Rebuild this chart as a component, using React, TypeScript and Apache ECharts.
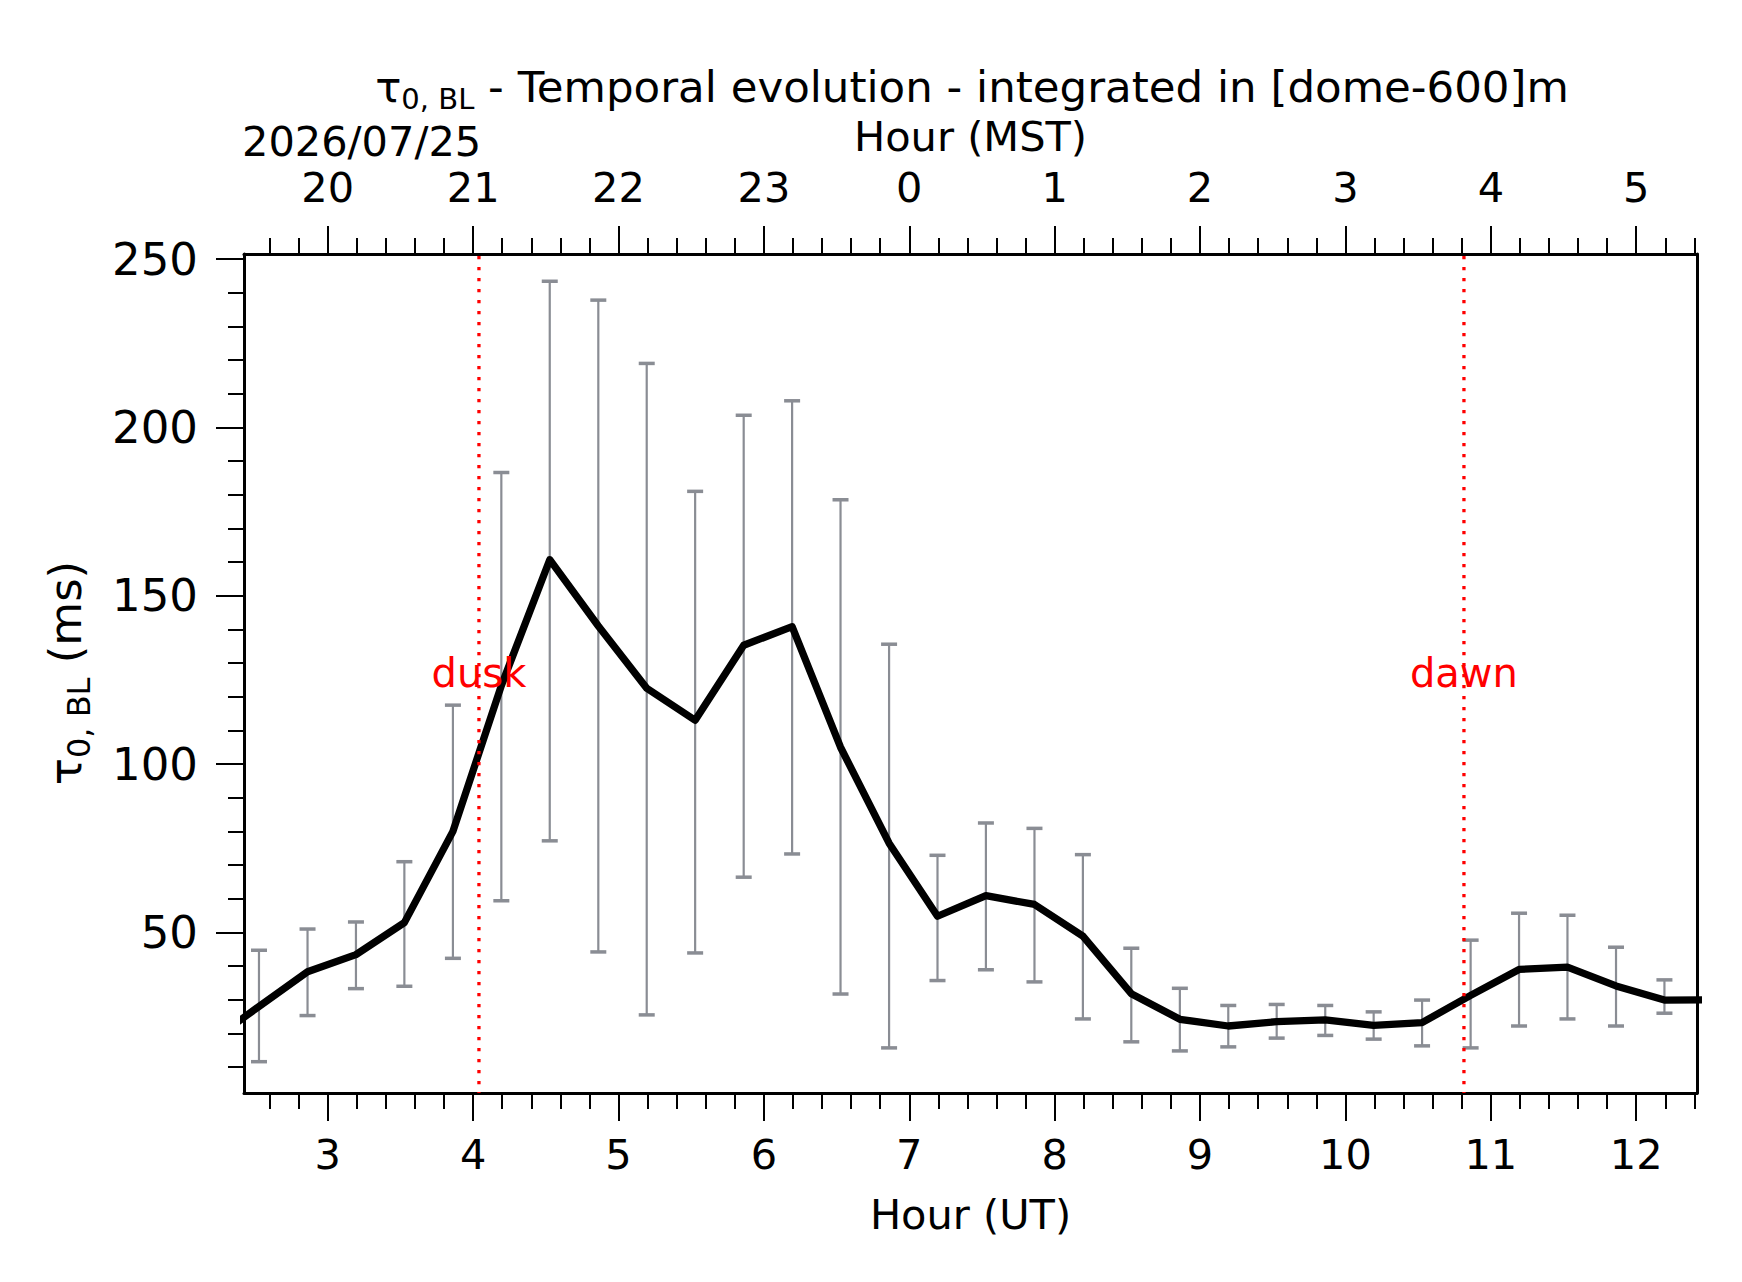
import React, { useEffect, useRef } from 'react';
import * as echarts from 'echarts';

// ---- data ----
const hoursUT = [
  2.527, 2.861, 3.194, 3.527, 3.861, 4.194, 4.527, 4.861, 5.194, 5.527,
  5.861, 6.194, 6.527, 6.861, 7.194, 7.527, 7.861, 8.194, 8.527, 8.861,
  9.194, 9.527, 9.861, 10.194, 10.527, 10.861, 11.194, 11.527, 11.861, 12.194,
];
const tauMedian = [
  28.0, 38.3, 43.4, 52.9, 80.0, 123.3, 160.7, 141.0, 122.5, 113.0,
  135.3, 140.8, 105.0, 76.5, 54.8, 60.9, 58.3, 48.9, 31.8, 24.2,
  22.2, 23.5, 24.0, 22.4, 23.2, 31.3, 39.0, 39.7, 34.1, 29.9,
];
const tauLow = [
  11.6, 25.3, 33.3, 34.0, 42.3, 59.4, 77.2, 44.2, 25.5, 43.9,
  66.4, 73.3, 31.7, 15.7, 35.7, 38.9, 35.3, 24.3, 17.5, 14.8,
  16.0, 18.6, 19.4, 18.3, 16.3, 15.7, 22.2, 24.3, 22.2, 26.0,
];
const tauHigh = [
  44.7, 51.0, 53.1, 71.0, 117.5, 186.6, 243.4, 237.8, 219.0, 181.0,
  203.6, 207.9, 178.5, 135.6, 72.9, 82.5, 80.9, 73.1, 45.3, 33.4,
  28.3, 28.6, 28.3, 26.4, 29.9, 47.7, 55.7, 55.1, 45.6, 35.9,
];
// neighbouring samples just outside the plotted window (line runs to the frame)
const edgeHoursUT = [2.194, 12.527];
const edgeTau = [17.6, 30.0];

const eventHoursUT = [4.04, 10.815];
const eventLabels = ['dusk', 'dawn'];
const eventLabelTau = 127;

const majorTicksUT = [3, 4, 5, 6, 7, 8, 9, 10, 11, 12];
const minorTicksUT = [
  2.6, 2.8, 3.0, 3.2, 3.4, 3.6, 3.8, 4.0, 4.2, 4.4, 4.6, 4.8, 5.0, 5.2, 5.4, 5.6, 5.8,
  6.0, 6.2, 6.4, 6.6, 6.8, 7.0, 7.2, 7.4, 7.6, 7.8, 8.0, 8.2, 8.4, 8.6, 8.8, 9.0, 9.2,
  9.4, 9.6, 9.8, 10.0, 10.2, 10.4, 10.6, 10.8, 11.0, 11.2, 11.4, 11.6, 11.8, 12.0,
  12.2, 12.4,
];
const majorTicksTau = [50, 100, 150, 200, 250];
const minorTicksTau = [
  10, 20, 30, 40, 50, 60, 70, 80, 90, 100, 110, 120, 130, 140, 150, 160, 170, 180,
  190, 200, 210, 220, 230, 240, 250,
];
const utToMstOffset = -7;
const dateLabel = '2026/07/25';
const titleRest = ' - Temporal evolution - integrated in [dome-600]m';

const X_MIN = 2.424;
const X_MAX = 12.418;
const Y_MIN = 2.3;
const Y_MAX = 251.5;

const FONT = '"DejaVu Sans", "Noto Sans", sans-serif';
const GREY = '#8a8d94';

function App() {
  const ref = useRef<HTMLDivElement>(null);

  useEffect(() => {
    document.body.style.margin = '0';
    if (!ref.current) return;
    const chart = echarts.init(ref.current, null, { renderer: 'svg' });

    const axisLine = { show: true, lineStyle: { color: '#000', width: 3 } };
    const tickStyle = { color: '#000', width: 2 };
    const xLabel = { color: '#000', fontSize: 41.5, fontFamily: FONT };

    const xBase = {
      type: 'value',
      min: X_MIN,
      max: X_MAX,
      splitLine: { show: false },
      axisPointer: { show: false },
    };
    const yBase = {
      type: 'value',
      min: Y_MIN,
      max: Y_MAX,
      splitLine: { show: false },
      axisPointer: { show: false },
    };

    const option: any = {
      animation: false,
      backgroundColor: '#ffffff',
      grid: {
        left: 244,
        right: 45,
        top: 254,
        bottom: 189,
        containLabel: false,
        outerBoundsMode: 'none',
      },
      xAxis: [
        {
          ...xBase,
          position: 'bottom',
          axisLine,
          axisTick: { show: true, inside: false, length: 16, lineStyle: tickStyle, customValues: minorTicksUT },
          axisLabel: { show: false },
        },
        {
          ...xBase,
          position: 'bottom',
          axisLine: { show: false },
          axisTick: { show: true, inside: false, length: 28, lineStyle: tickStyle, customValues: majorTicksUT },
          axisLabel: { ...xLabel, margin: 40, customValues: majorTicksUT, formatter: (v: number) => String(Math.round(v)) },
        },
        {
          ...xBase,
          position: 'top',
          axisLine,
          axisTick: { show: true, inside: false, length: 16, lineStyle: tickStyle, customValues: minorTicksUT },
          axisLabel: { show: false },
        },
        {
          ...xBase,
          position: 'top',
          axisLine: { show: false },
          axisTick: { show: true, inside: false, length: 28, lineStyle: tickStyle, customValues: majorTicksUT },
          axisLabel: {
            ...xLabel,
            margin: 50,
            lineHeight: 34,
            customValues: majorTicksUT,
            formatter: (v: number) => String((Math.round(v) + utToMstOffset + 24) % 24),
          },
        },
      ],
      yAxis: [
        {
          ...yBase,
          position: 'left',
          axisLine,
          axisTick: { show: true, inside: false, length: 16, lineStyle: tickStyle, customValues: minorTicksTau },
          axisLabel: { show: false },
        },
        {
          ...yBase,
          position: 'left',
          axisLine: { show: false },
          axisTick: { show: true, inside: false, length: 28, lineStyle: tickStyle, customValues: majorTicksTau },
          axisLabel: { color: '#000', fontSize: 45, fontFamily: FONT, margin: 46, customValues: majorTicksTau },
        },
        {
          ...yBase,
          position: 'right',
          axisLine,
          axisTick: { show: false },
          axisLabel: { show: false },
        },
      ],
      series: [
        {
          type: 'custom',
          name: 'spread',
          xAxisIndex: 0,
          yAxisIndex: 0,
          z: 1,
          silent: true,
          clip: true,
          data: hoursUT.map((h, i) => [h, tauLow[i], tauHigh[i]]),
          encode: { x: 0, y: [1, 2] },
          renderItem: (params: any, api: any) => {
            const x = api.value(0);
            const lo = api.coord([x, api.value(1)]);
            const hi = api.coord([x, api.value(2)]);
            const hw = 8;
            return {
              type: 'group',
              children: [
                { type: 'line', shape: { x1: lo[0], y1: lo[1], x2: hi[0], y2: hi[1] }, style: { stroke: GREY, lineWidth: 2.2 } },
                { type: 'line', shape: { x1: hi[0] - hw, y1: hi[1], x2: hi[0] + hw, y2: hi[1] }, style: { stroke: GREY, lineWidth: 3.5 } },
                { type: 'line', shape: { x1: lo[0] - hw, y1: lo[1], x2: lo[0] + hw, y2: lo[1] }, style: { stroke: GREY, lineWidth: 3.5 } },
              ],
            };
          },
        },
        {
          type: 'line',
          name: 'tau',
          xAxisIndex: 0,
          yAxisIndex: 0,
          z: 2,
          silent: true,
          showSymbol: false,
          symbol: 'none',
          clip: true,
          lineStyle: { color: '#000', width: 7.3, join: 'round' },
          data: [
            [edgeHoursUT[0], edgeTau[0]],
            ...hoursUT.map((h, i) => [h, tauMedian[i]]),
            [edgeHoursUT[1], edgeTau[1]],
          ],
        },
        {
          type: 'custom',
          name: 'events',
          xAxisIndex: 0,
          yAxisIndex: 0,
          z: 3,
          silent: true,
          clip: false,
          data: eventHoursUT.map((h, i) => [h, eventLabelTau, i]),
          encode: { x: 0, y: 1 },
          renderItem: (params: any, api: any) => {
            const cs = params.coordSys;
            const p = api.coord([api.value(0), api.value(1)]);
            const idx = api.value(2);
            return {
              type: 'group',
              children: [
                {
                  type: 'line',
                  shape: { x1: p[0], y1: cs.y + 2, x2: p[0], y2: cs.y + cs.height },
                  style: { stroke: '#ff0000', lineWidth: 3.3, lineDash: [3.3, 7.7] },
                },
                {
                  type: 'text',
                  x: p[0],
                  y: p[1],
                  style: {
                    text: eventLabels[idx],
                    fill: '#ff0000',
                    fontSize: 40,
                    fontFamily: FONT,
                    align: 'center',
                    verticalAlign: 'middle',
                  },
                },
              ],
            };
          },
        },
      ],
      graphic: [
        {
          type: 'text',
          x: 972,
          y: 86.7,
          style: {
            text: '{m|τ}{s|0, BL}{m|' + titleRest + '}',
            align: 'center',
            verticalAlign: 'middle',
            rich: {
              m: { fontSize: 43.5, fontFamily: FONT, fill: '#000' },
              s: { fontSize: 29, fontFamily: FONT, fill: '#000', padding: [25, 0, 0, 0] },
            },
          },
        },
        {
          type: 'text',
          x: 242,
          y: 141.5,
          style: {
            text: dateLabel,
            fontSize: 41.5,
            lineHeight: 32,
            fontFamily: FONT,
            fill: '#000',
            align: 'left',
            verticalAlign: 'middle',
          },
        },
        {
          type: 'text',
          x: 970.5,
          y: 136.5,
          style: { text: 'Hour (MST)', fontSize: 41.5, lineHeight: 34, fontFamily: FONT, fill: '#000', align: 'center', verticalAlign: 'middle' },
        },
        {
          type: 'text',
          x: 970.5,
          y: 1214.5,
          style: { text: 'Hour (UT)', fontSize: 41.5, fontFamily: FONT, fill: '#000', align: 'center', verticalAlign: 'middle' },
        },
        {
          type: 'text',
          x: 65.5,
          y: 673,
          rotation: Math.PI / 2,
          style: {
            text: '{m|τ}{s|0, BL}{m| (ms)}',
            align: 'center',
            verticalAlign: 'middle',
            rich: {
              m: { fontSize: 45, fontFamily: FONT, fill: '#000' },
              s: { fontSize: 32, fontFamily: FONT, fill: '#000', padding: [27, 0, 0, 0] },
            },
          },
        },
      ],
    };

    chart.setOption(option);
    return () => {
      chart.dispose();
    };
  }, []);

  return <div ref={ref} style={{ width: 1742, height: 1282 }} />;
}

export default App;
